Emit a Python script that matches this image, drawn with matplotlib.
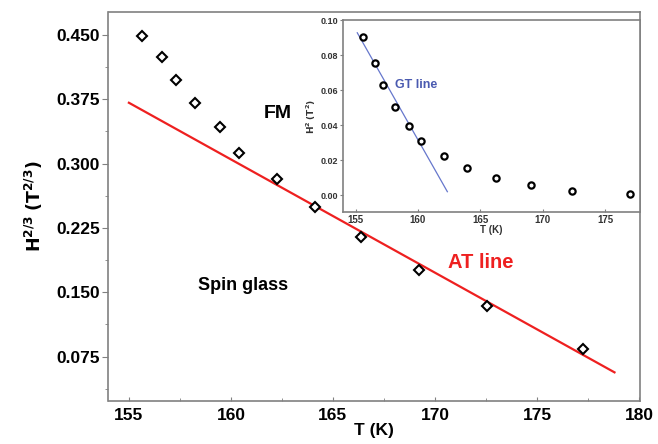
import matplotlib
matplotlib.use("Agg")
import matplotlib.pyplot as plt
from matplotlib.ticker import MultipleLocator

plt.rcParams['font.family'] = ['Liberation Sans', 'DejaVu Sans']

# ---- data ----
T_main = [155.65, 156.6, 157.3, 158.25, 159.45, 160.4, 162.25, 164.1, 166.4, 169.2, 172.55, 177.25]
H23_main = [0.4492, 0.4240, 0.3975, 0.3704, 0.3424, 0.3128, 0.2821, 0.2498, 0.2141, 0.1760, 0.1340, 0.0839]
AT_T = [155.0, 178.8]
AT_H23 = [0.371, 0.0567]

T_inset = [155.58, 156.56, 157.23, 158.17, 159.31, 160.25, 162.10, 163.97, 166.24, 169.07, 172.31, 176.96]
H2_inset = [0.0901, 0.0756, 0.0627, 0.0505, 0.0396, 0.0307, 0.0225, 0.0156, 0.0097, 0.0055, 0.0025, 0.0006]
GT_T = [155.14, 162.36]
GT_H2 = [0.0927, 0.0019]

main_xticks = [155, 160, 165, 170, 175, 180]
main_yticks = [0.075, 0.150, 0.225, 0.300, 0.375, 0.450]
inset_xticks = [155, 160, 165, 170, 175]
inset_yticks = [0.00, 0.02, 0.04, 0.06, 0.08, 0.10]

W, H = 658, 444
fig = plt.figure(figsize=(W / 100, H / 100), dpi=100)

spine_col = '#808080'

# ---- main axes ----
ax = fig.add_axes([108.5 / W, 1 - 401 / H, (640 - 108.5) / W, (401 - 12) / H])
ax.plot(AT_T, AT_H23, color='#ee2020', lw=1.6, zorder=2)
ax.plot(T_main, H23_main, linestyle='none', marker='D', markersize=5.5,
        markerfacecolor='white', markeredgecolor='black', markeredgewidth=1.5, zorder=3)
ax.set_xlim(154.0, 180.05)
ax.set_ylim(0.0233, 0.4768)
ax.set_xticks(main_xticks)
ax.set_yticks(main_yticks)
ax.set_xticklabels([str(v) for v in main_xticks], fontsize=12.5, fontweight='bold')
ax.set_yticklabels(['%.3f' % v for v in main_yticks], fontsize=12.5, fontweight='bold')
ax.xaxis.set_minor_locator(MultipleLocator(2.5))
ax.yaxis.set_minor_locator(MultipleLocator(0.0375))
ax.tick_params(axis='x', which='both', direction='in', length=3, color=spine_col, pad=5)
ax.tick_params(axis='y', which='both', direction='out', length=4, color=spine_col, pad=2)
ax.tick_params(which='minor', length=2.5)
for s in ax.spines.values():
    s.set_color(spine_col)
    s.set_linewidth(1.2)
ax.set_xlabel('T (K)', fontsize=12.5, fontweight='bold', labelpad=0)
ax.set_ylabel(r'$\mathbf{H^{2/3}}$ $\mathbf{(T^{2/3})}$', fontsize=12.5, fontweight='bold', labelpad=8)

ax.text(162.3, 0.359, 'FM', fontsize=14, fontweight='bold', ha='center', va='center')
ax.text(160.59, 0.158, 'Spin glass', fontsize=13, fontweight='bold', ha='center', va='center')
ax.text(170.65, 0.1845, 'AT line', fontsize=14.5, fontweight='bold', color='#ee2020',
        ha='left', va='center')

# ---- inset ----
ins = fig.add_axes([343.3 / W, 1 - 212 / H, (640 - 343.3) / W, (212 - 20) / H])
ins.plot(GT_T, GT_H2, color='#6677cc', lw=0.9, zorder=2)
ins.plot(T_inset, H2_inset, linestyle='none', marker='o', markersize=4.5,
         markerfacecolor='white', markeredgecolor='black', markeredgewidth=1.6, zorder=3)
ins.set_xlim(154.02, 177.8)
ins.set_ylim(-0.0097, 0.10)
ins.set_xticks(inset_xticks)
ins.set_yticks(inset_yticks)
ins.set_xticklabels([str(v) for v in inset_xticks], fontsize=7, fontweight='bold', color='#333333')
ins.set_yticklabels(['%.2f' % v for v in inset_yticks], fontsize=6.5, fontweight='bold', color='#333333')
ins.tick_params(axis='x', direction='in', length=2, color=spine_col, pad=2)
ins.tick_params(axis='y', direction='out', length=2, color=spine_col, pad=1.5)
for s in ins.spines.values():
    s.set_color(spine_col)
    s.set_linewidth(1.2)
ins.set_xlabel('T (K)', fontsize=7, fontweight='bold', color='#333333', labelpad=0)
ins.set_ylabel(r'$\mathbf{H^2}$ $\mathbf{(T^2)}$', fontsize=6.5, fontweight='bold',
               color='#333333', labelpad=2)
ins.text(158.2, 0.0629, 'GT line', fontsize=9, fontweight='bold', color='#4a5ab0',
         ha='left', va='center')

fig.savefig('out.png', dpi=100)
